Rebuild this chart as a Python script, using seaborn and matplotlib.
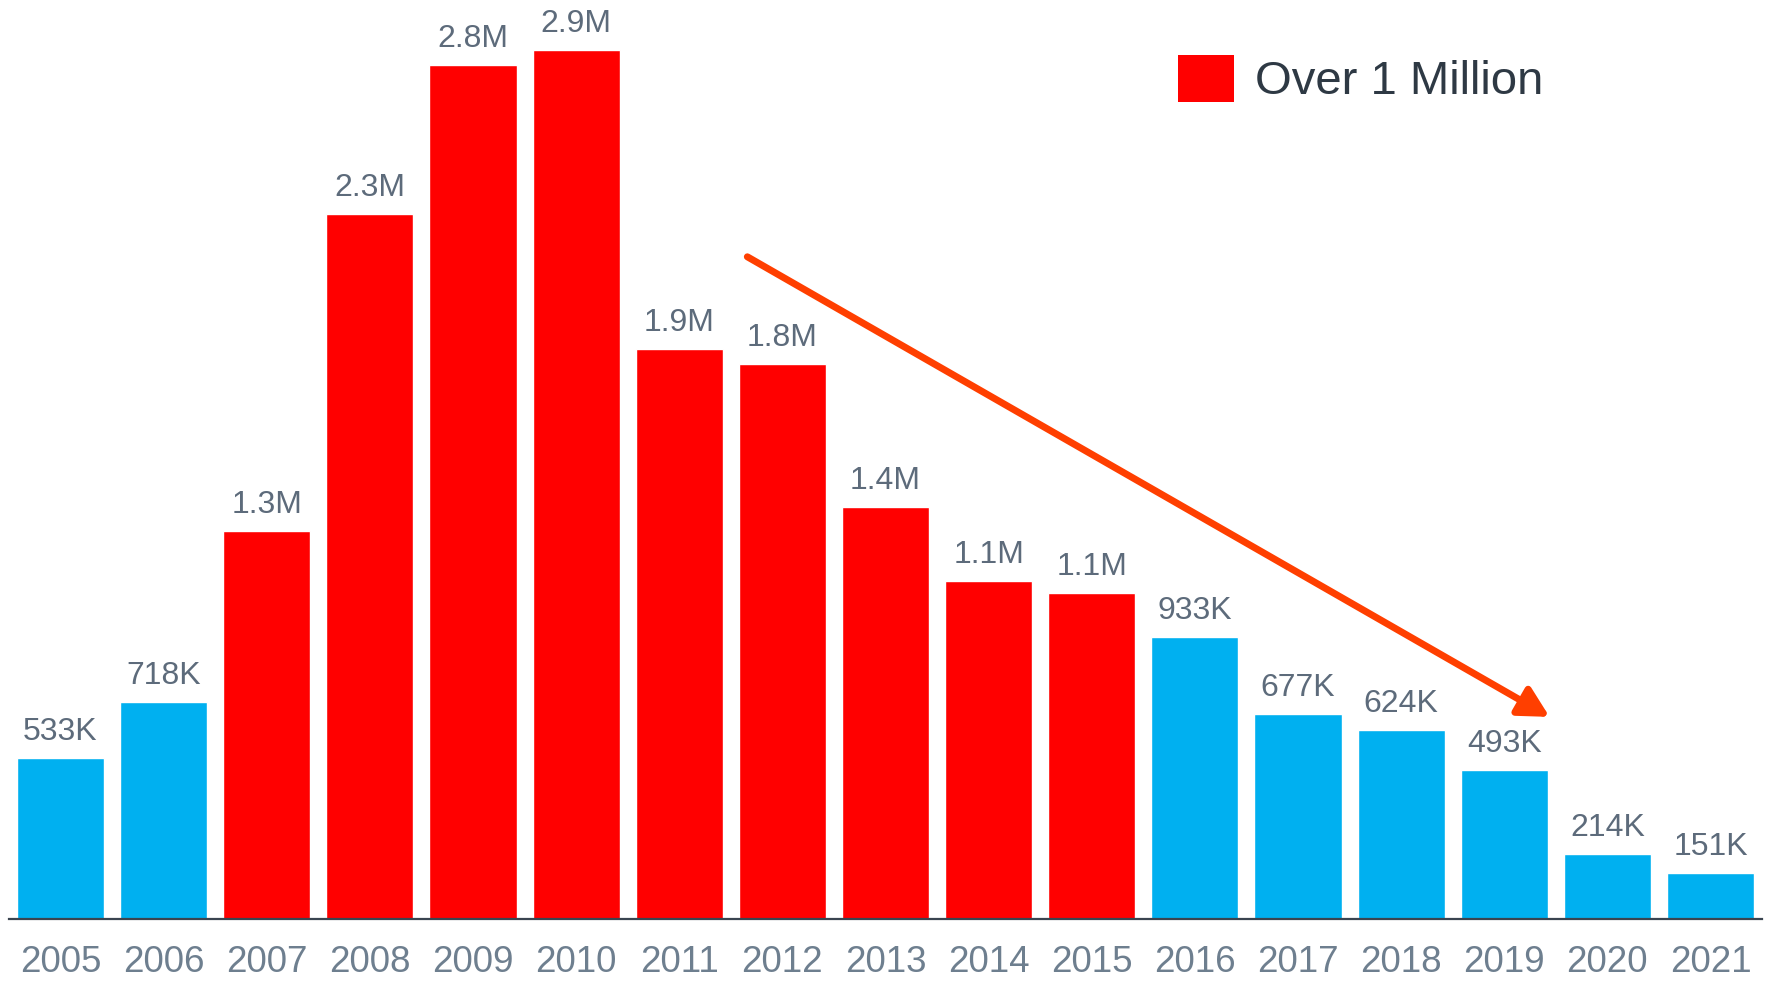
import matplotlib
matplotlib.use("Agg")
import matplotlib.pyplot as plt
from matplotlib.patches import Patch
import seaborn as sns
import pandas as pd

# Yearly totals (units)
years = ["2005", "2006", "2007", "2008", "2009", "2010", "2011", "2012", "2013",
         "2014", "2015", "2016", "2017", "2018", "2019", "2020", "2021"]
values = [533_000, 718_000, 1_285_000, 2_334_000, 2_826_000, 2_875_000, 1_886_000,
          1_838_000, 1_364_000, 1_118_000, 1_080_000, 933_000, 677_000, 624_000,
          493_000, 214_000, 151_000]
legend_label = "Over 1 Million"

BLUE = "#00B0F0"
RED = "#FF0000"
ARROW = "#FF3F00"

def fmt(v):
    return f"{v / 1e6:.1f}M" if v >= 1_000_000 else f"{v / 1e3:.0f}K"

df = pd.DataFrame({"year": years, "value": values})
df["group"] = ["over" if v >= 1_000_000 else "under" for v in values]

sns.set_theme(style="white")
plt.rcParams["font.family"] = ["Liberation Sans", "DejaVu Sans"]

fig = plt.figure(figsize=(17.67, 9.81), dpi=100)
ax = fig.add_axes([9 / 1767, 62 / 981, 1753 / 1767, 919 / 981])

sns.barplot(data=df, x="year", y="value", hue="group",
            palette={"over": RED, "under": BLUE}, dodge=False,
            width=0.845, saturation=1, legend=False, ax=ax)

ax.set_xlim(-0.5, len(years) - 0.5)
ax.set_ylim(0, 3_042_000)

# value labels above bars
for i, v in enumerate(values):
    ax.annotate(fmt(v), (i, v), xytext=(0, 8), textcoords="offset points",
                ha="center", va="bottom", fontsize=23, color="#5d6b7b")

# trend arrow
ax.annotate("", xy=(14.44, 669_000), xytext=(6.66, 2_192_000),
            arrowprops=dict(arrowstyle="-|>,head_length=1.5,head_width=0.8",
                            color=ARROW, lw=5, shrinkA=0, shrinkB=0))

for s in ["left", "right", "top"]:
    ax.spines[s].set_visible(False)
ax.spines["bottom"].set_color("#3a4450")
ax.spines["bottom"].set_linewidth(1.6)
ax.set_yticks([])
ax.set_xlabel("")
ax.set_ylabel("")
ax.tick_params(axis="x", length=0, pad=19, labelsize=26.5, labelcolor="#6e7f8f")

handles = [Patch(facecolor=RED, edgecolor="none", label=legend_label)]
fig.legend(handles=handles, loc="upper left",
           bbox_to_anchor=(1178 / 1767, 1 - 55 / 981), frameon=False,
           fontsize=34, handlelength=1.19, handleheight=1.14,
           handletextpad=0.45, borderpad=0, borderaxespad=0,
           labelcolor="#2e3944")

fig.savefig("out.png", dpi=100)
